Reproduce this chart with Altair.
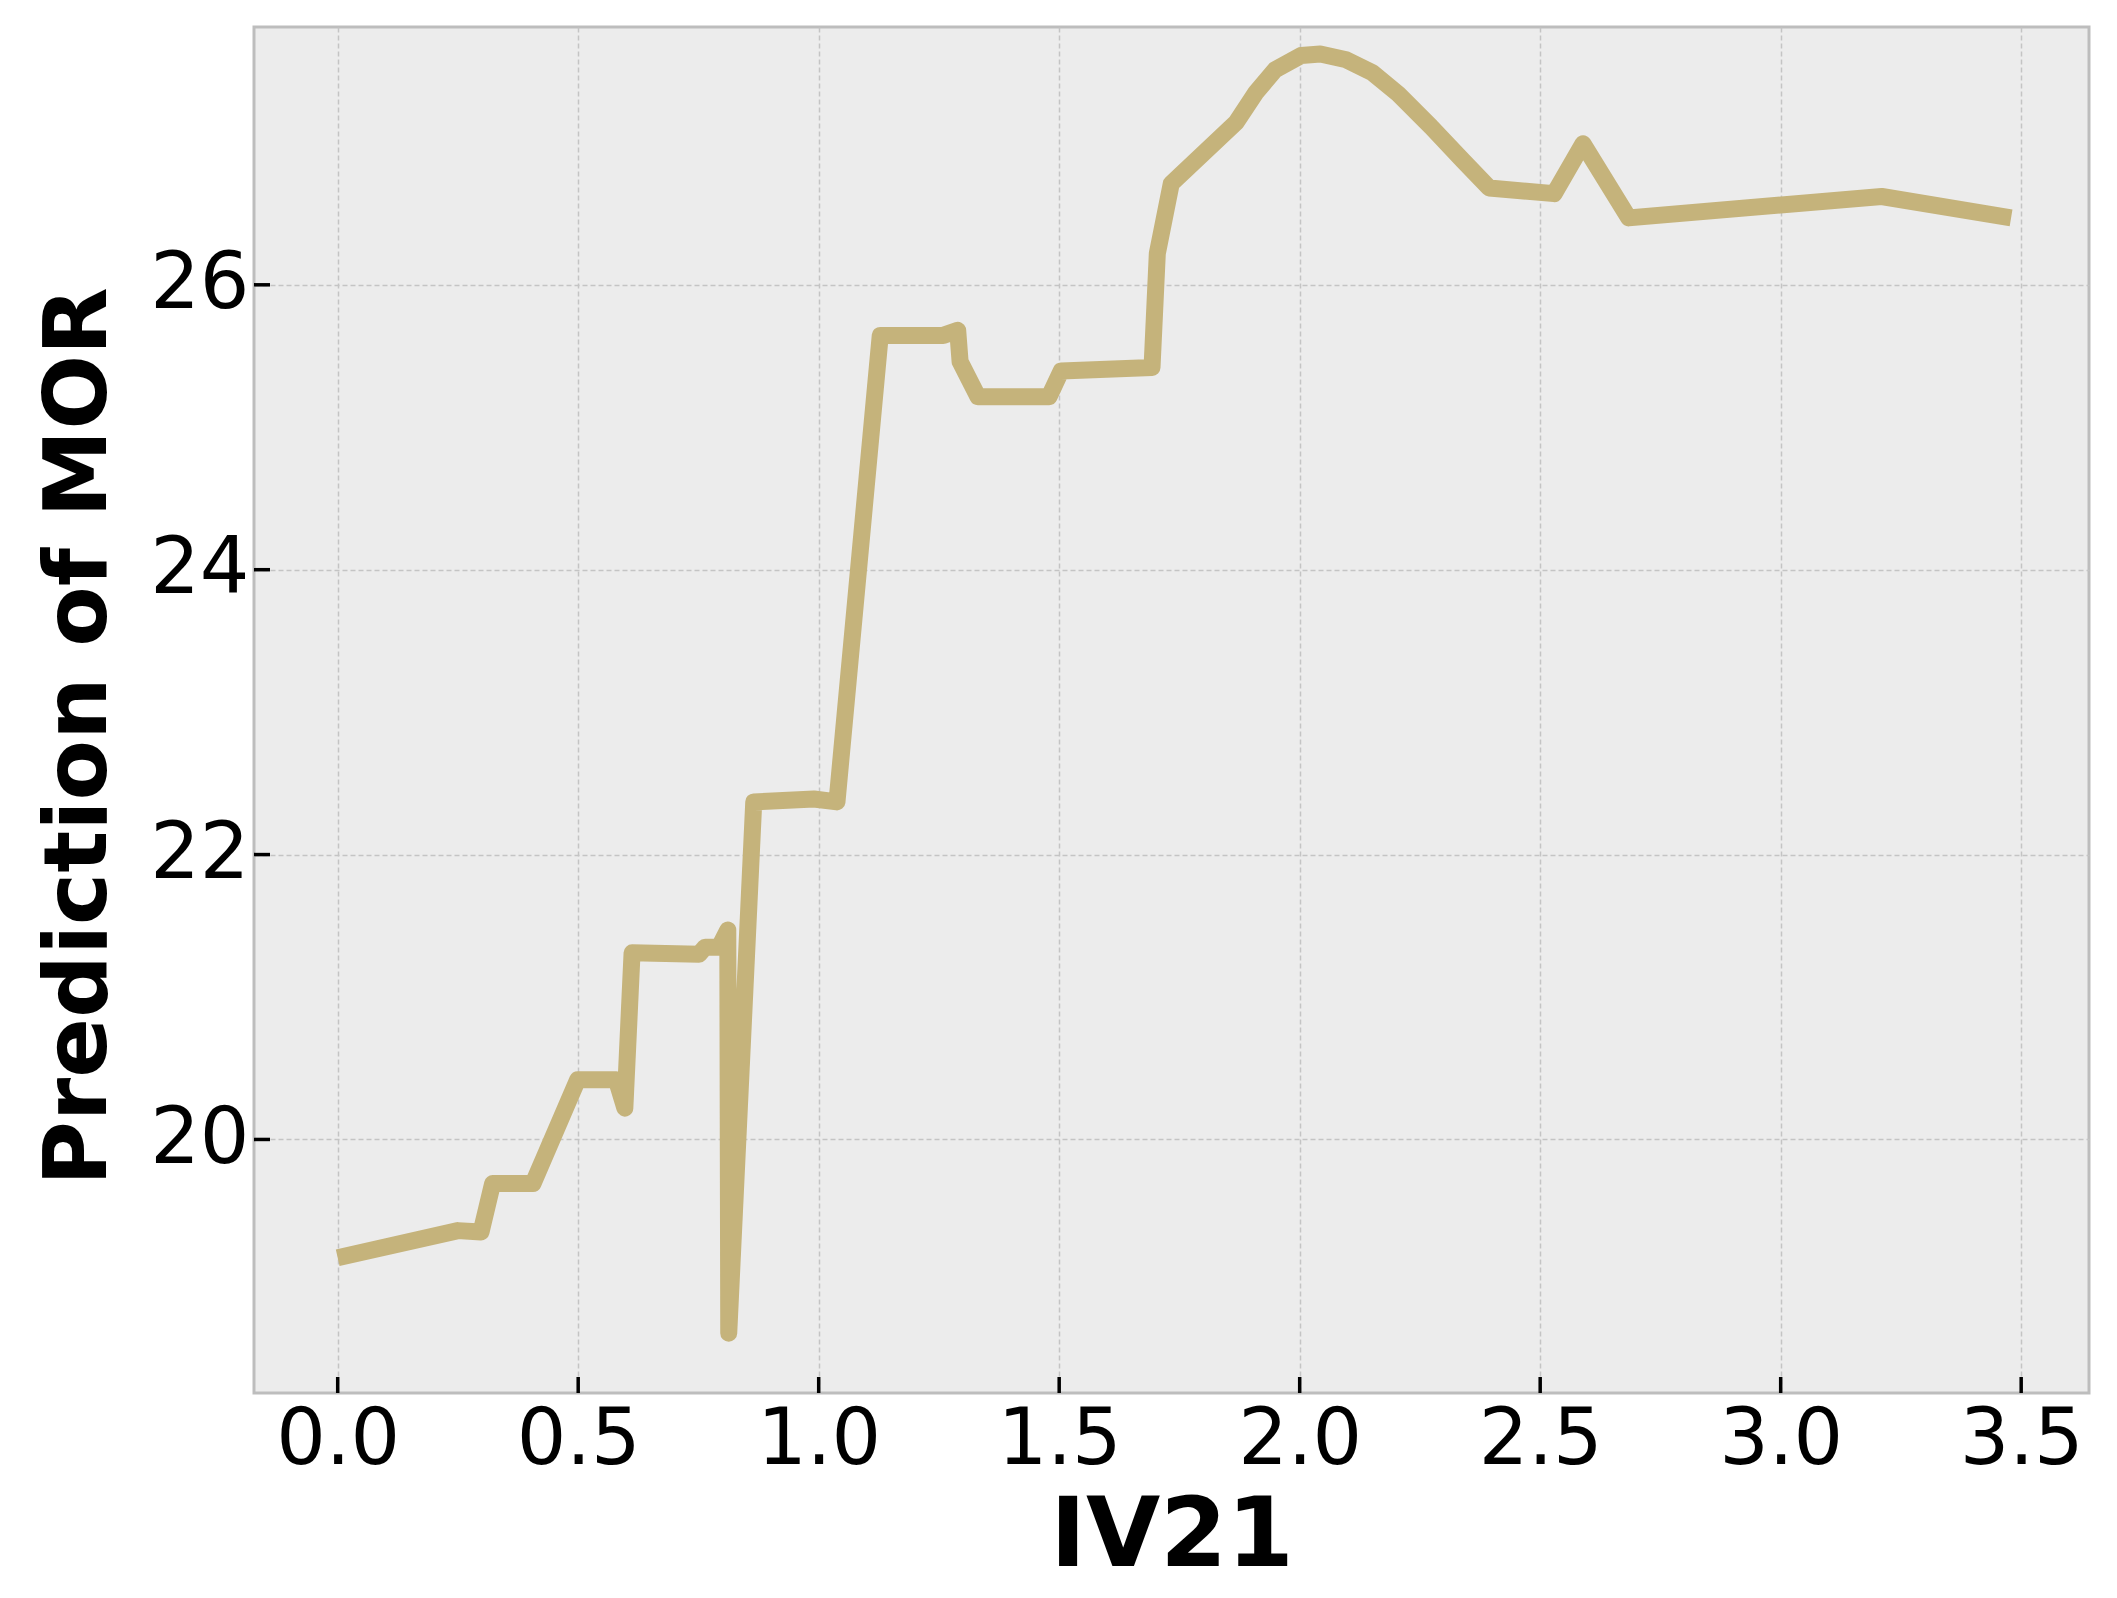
import altair as alt
import pandas as pd

# IV21 values and predicted MOR
iv21 = [0.0, 0.25, 0.298, 0.322, 0.406, 0.499, 0.579, 0.597, 0.612, 0.751, 0.764, 0.793,
        0.811, 0.813, 0.865, 0.990, 1.038, 1.128, 1.259, 1.289, 1.294, 1.331, 1.479, 1.504,
        1.693, 1.704, 1.733, 1.868, 1.909, 1.949, 2.003, 2.043, 2.097, 2.151, 2.205, 2.273,
        2.340, 2.394, 2.529, 2.589, 2.684, 3.210, 3.479]
mor = [19.17, 19.36, 19.35, 19.69, 19.69, 20.42, 20.42, 20.22, 21.31, 21.30, 21.35, 21.35,
       21.47, 18.64, 22.37, 22.39, 22.37, 25.645, 25.645, 25.68, 25.46, 25.215, 25.215, 25.395,
       25.42, 26.22, 26.71, 27.14, 27.35, 27.51, 27.61, 27.62, 27.58, 27.49, 27.34, 27.11,
       26.87, 26.68, 26.64, 26.99, 26.47, 26.62, 26.47]

x_ticks = [0.0, 0.5, 1.0, 1.5, 2.0, 2.5, 3.0, 3.5]
y_ticks = [20, 22, 24, 26]

X_DOMAIN = [-0.174, 3.641]
Y_DOMAIN = [18.22, 27.81]

W, H = 1835, 1366
TICK_LEN = 16

df = pd.DataFrame({"IV21": iv21, "MOR": mor, "idx": list(range(len(iv21)))})

# inward tick marks, expressed in data units of the scales
x_tick_len = TICK_LEN * (Y_DOMAIN[1] - Y_DOMAIN[0]) / H
y_tick_len = TICK_LEN * (X_DOMAIN[1] - X_DOMAIN[0]) / W
xt = pd.DataFrame({"v": x_ticks, "lo": [Y_DOMAIN[0]] * len(x_ticks),
                   "hi": [Y_DOMAIN[0] + x_tick_len] * len(x_ticks)})
yt = pd.DataFrame({"v": y_ticks, "lo": [X_DOMAIN[0]] * len(y_ticks),
                   "hi": [X_DOMAIN[0] + y_tick_len] * len(y_ticks)})

xscale = alt.Scale(domain=X_DOMAIN, nice=False, zero=False)
yscale = alt.Scale(domain=Y_DOMAIN, nice=False, zero=False)

line = alt.Chart(df).mark_line(
    color="#C5B37B", strokeWidth=17, strokeJoin="round", strokeCap="butt"
).encode(
    x=alt.X("IV21:Q", scale=xscale,
            axis=alt.Axis(title="IV21", values=x_ticks, format=".1f")),
    y=alt.Y("MOR:Q", scale=yscale,
            axis=alt.Axis(title="Prediction of MOR", values=y_ticks, format="d",
                          titleY=709, titleAlign="center")),
    order="idx:Q",
)

xtick_marks = alt.Chart(xt).mark_rule(color="black", strokeWidth=3.5).encode(
    x=alt.X("v:Q", scale=xscale),
    y=alt.Y("lo:Q", scale=yscale),
    y2="hi:Q",
)
ytick_marks = alt.Chart(yt).mark_rule(color="black", strokeWidth=3.5).encode(
    y=alt.Y("v:Q", scale=yscale),
    x=alt.X("lo:Q", scale=xscale),
    x2="hi:Q",
)

chart = alt.layer(line, xtick_marks, ytick_marks).properties(
    width=W,
    height=H,
    autosize=alt.AutoSizeParams(type="none"),
    padding={"left": 246, "top": 19, "right": 20, "bottom": 197},
).configure_view(
    fill="#ECECEC", stroke="#BDBDBD", strokeWidth=3
).configure_axis(
    domain=False,
    ticks=False,
    grid=True,
    gridColor="#C4C4C4",
    gridDash=[5, 3],
    gridWidth=1.5,
    labelFont="DejaVu Sans",
    labelFontSize=78,
    labelColor="black",
    titleFont="DejaVu Sans",
    titleFontWeight="bold",
    titleColor="black",
).configure_axisX(
    labelPadding=8,
    titleFontSize=96,
    titlePadding=10,
).configure_axisY(
    labelPadding=5,
    titleFontSize=88,
    titlePadding=26,
)

chart.save("out.html", embed_options={"renderer": "svg", "actions": False})
